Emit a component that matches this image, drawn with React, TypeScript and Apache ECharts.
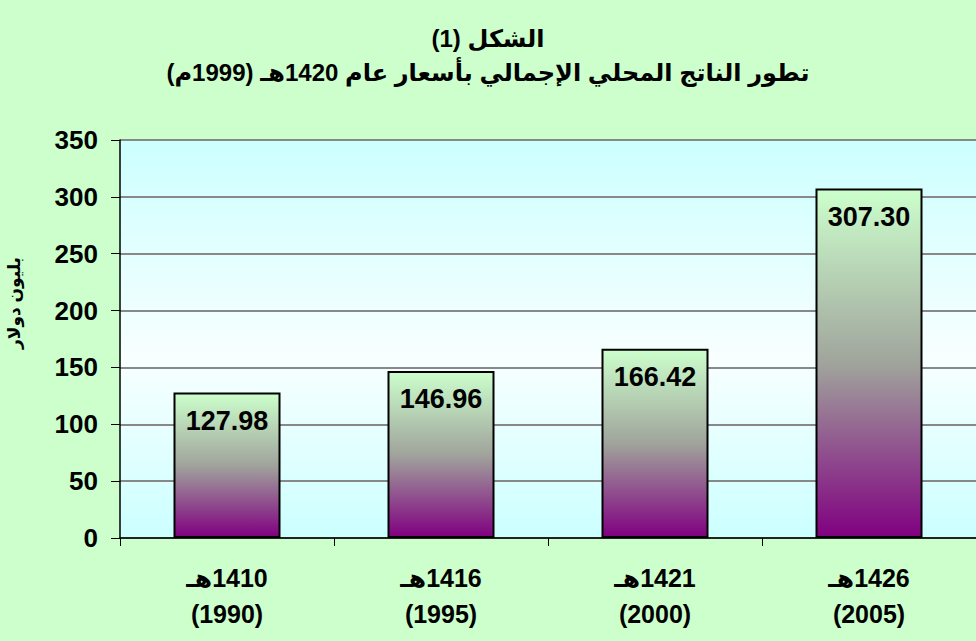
import React, { useEffect, useRef } from "react";
import * as echarts from "echarts";

const RLE = "\u202B";
const PDF = "\u202C";
const LRM = "\u200E";

const titleLines = ["الشكل (1)", "تطور الناتج المحلي الإجمالي بأسعار عام 1420هـ (1999م)"];
const hijriYears = ["1410", "1416", "1421", "1426"];
const gregorianYears = ["1990", "1995", "2000", "2005"];
const gdpValues = [127.98, 146.96, 166.42, 307.3];
const yAxisName = "بليون دولار";

const FONT = "'Liberation Sans', Arial, 'DejaVu Sans', sans-serif";

export default function App() {
  const ref = useRef<HTMLDivElement>(null);
  useEffect(() => {
    if (!ref.current) return;
    const chart = echarts.init(ref.current, null, { renderer: "svg" });
    const categories = hijriYears.map(
      (h, i) => "\u0647\u0640" + LRM + h + "\n(" + gregorianYears[i] + ")"
    );
    chart.setOption({
      animation: false,
      backgroundColor: "#ccffcc",
      title: {
        text: titleLines.map((t) => RLE + t + PDF).join("\n"),
        left: "center",
        top: 16,
        textStyle: {
          fontFamily: FONT,
          fontSize: 24,
          fontWeight: "bold",
          color: "#000",
          lineHeight: 34,
        },
      },
      graphic: [
        {
          type: "text",
          x: 14,
          y: 303,
          rotation: Math.PI / 2,
          style: {
            text: RLE + yAxisName + PDF,
            align: "center",
            verticalAlign: "middle",
            fontFamily: FONT,
            fontSize: 17,
            fontWeight: "bold",
            fill: "#000",
          },
        },
      ],
      grid: {
        left: 120,
        right: 0,
        top: 140,
        bottom: 103,
        show: true,
        borderWidth: 0,
        backgroundColor: new echarts.graphic.LinearGradient(0, 0, 0, 1, [
          { offset: 0, color: "#ccffff" },
          { offset: 0.55, color: "#f8ffff" },
          { offset: 1, color: "#ccffff" },
        ]),
      },
      xAxis: {
        type: "category",
        data: categories,
        axisLine: { show: true, lineStyle: { color: "#000", width: 1.5 } },
        axisTick: { show: true, length: 8, lineStyle: { color: "#000" } },
        axisLabel: {
          fontFamily: FONT,
          fontSize: 25,
          fontWeight: "bold",
          color: "#000",
          lineHeight: 36,
          margin: 22,
        },
      },
      yAxis: {
        type: "value",
        min: 0,
        max: 350,
        interval: 50,
        axisLine: { show: true, lineStyle: { color: "#000", width: 1.5 } },
        axisTick: { show: true, length: 9, inside: false, lineStyle: { color: "#000" } },
        axisLabel: {
          fontFamily: FONT,
          fontSize: 26,
          fontWeight: "bold",
          color: "#000",
          margin: 22,
        },
        splitLine: { show: true, lineStyle: { color: "#888888", width: 2 } },
      },
      series: [
        {
          type: "bar",
          data: gdpValues,
          barWidth: "50%",
          itemStyle: {
            borderColor: "#000",
            borderWidth: 2,
            color: new echarts.graphic.LinearGradient(0, 0, 0, 1, [
              { offset: 0, color: "#ccffcc" },
              { offset: 0.5, color: "#a0a49c" },
              { offset: 1, color: "#800080" },
            ]),
          },
          label: {
            show: true,
            position: "insideTop",
            distance: 15,
            formatter: (p: any) => p.value.toFixed(2),
            fontFamily: FONT,
            fontSize: 27,
            fontWeight: "bold",
            color: "#000",
          },
        },
      ],
    });
    return () => chart.dispose();
  }, []);
  return (
    <div
      ref={ref}
      style={{ position: "fixed", left: 0, top: 0, width: 976, height: 641 }}
    />
  );
}
